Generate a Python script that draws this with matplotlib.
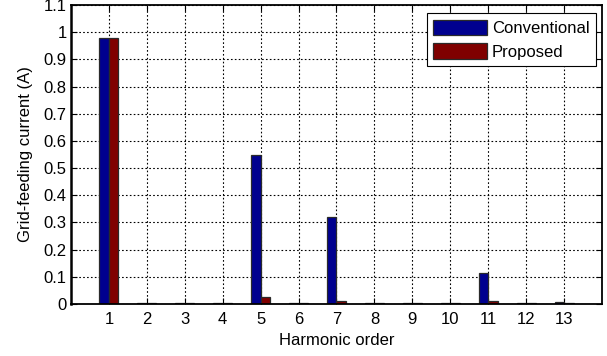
import matplotlib
matplotlib.use("Agg")
import matplotlib.pyplot as plt
import numpy as np

plt.rcParams['font.family'] = ['Liberation Sans', 'DejaVu Sans']

orders = [1, 2, 3, 4, 5, 6, 7, 8, 9, 10, 11, 12, 13]
conventional = [0.98, 0.003, 0.003, 0.003, 0.55, 0.003, 0.32, 0.003, 0.003, 0.003, 0.115, 0.003, 0.009]
proposed = [0.98, 0.002, 0.002, 0.002, 0.025, 0.002, 0.01, 0.002, 0.002, 0.002, 0.01, 0.002, 0.002]
yticks = [0, 0.1, 0.2, 0.3, 0.4, 0.5, 0.6, 0.7, 0.8, 0.9, 1, 1.1]
ytick_labels = ['0', '0.1', '0.2', '0.3', '0.4', '0.5', '0.6', '0.7', '0.8', '0.9', '1', '1.1']

fig = plt.figure(figsize=(6.07, 3.56), dpi=100)
ax = fig.add_axes([71 / 607, 1 - 304 / 356, (602 - 71) / 607, (304 - 5) / 356])

x = np.array(orders, dtype=float)
w = 0.25
ax.bar(x - w / 2, conventional, width=w, color='#00008f', edgecolor='#2a2a2a',
       linewidth=0.9, label='Conventional', zorder=3)
ax.bar(x + w / 2, proposed, width=w, color='#800000', edgecolor='#2a2a2a',
       linewidth=0.9, label='Proposed', zorder=3)

ax.set_xlim(0, 14)
ax.set_ylim(0, 1.1)
ax.set_xticks(orders)
ax.set_xticklabels([str(o) for o in orders])
ax.set_yticks(yticks)
ax.set_yticklabels(ytick_labels)
ax.tick_params(direction='in', length=4, width=0.8, labelsize=12)
ax.tick_params(axis='x', pad=6)
ax.tick_params(axis='y', pad=3)
ax.tick_params(top=True, right=True)

ax.grid(True, color='black', linestyle=(0, (1.5, 2.0)), linewidth=0.8, zorder=0)
for s in ax.spines.values():
    s.set_linewidth(1.3)
    s.set_zorder(4)
ax.spines['left'].set_linewidth(1.8)

ax.set_xlabel('Harmonic order', fontsize=12, labelpad=4)
ax.set_ylabel('Grid-feeding current (A)', fontsize=12, labelpad=8)

leg = ax.legend(loc='upper right', bbox_to_anchor=(0.9887, 0.973), fontsize=12,
                frameon=True, fancybox=False, edgecolor='black', framealpha=1,
                handlelength=3.2, handleheight=1.05, borderpad=0.4,
                labelspacing=0.42, handletextpad=0.3, borderaxespad=0.0)
leg.get_frame().set_linewidth(0.8)

fig.savefig('out.png', dpi=100)
